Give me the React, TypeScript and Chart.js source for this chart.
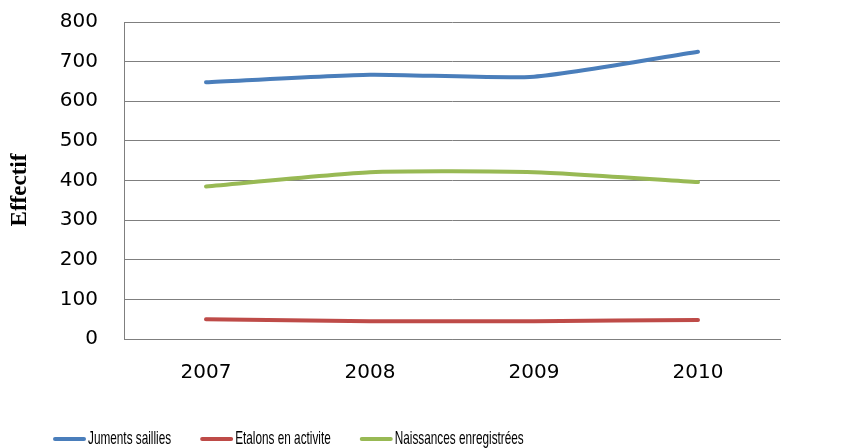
import React, { useEffect, useRef } from "react";
import { Chart, registerables } from "chart.js";

Chart.register(...registerables);

const years = ["2007", "2008", "2009", "2010"];
const juments = [648, 667, 662, 725];
const etalons = [50, 45, 45, 48];
const naissances = [385, 421, 421, 396];
const seriesNames = ["Juments saillies", "Etalons en activite", "Naissances enregistrées"];
const seriesColors = ["#4A7EBB", "#BE4B48", "#98B954"];
const yTitle = "Effectif";

const decorPlugin = {
  id: "decor",
  afterDraw(chart: any) {
    const ctx = chart.ctx;
    ctx.save();
    // y-axis title
    ctx.save();
    ctx.translate(20, 190);
    ctx.rotate(-Math.PI / 2);
    ctx.font = "bold 23px 'Liberation Serif', serif";
    ctx.fillStyle = "#000";
    ctx.textAlign = "center";
    ctx.textBaseline = "middle";
    ctx.fillText(yTitle, 0, 0);
    ctx.restore();
    // legend
    const sx = 0.62;
    ctx.font = "19px 'Liberation Sans', sans-serif";
    ctx.textBaseline = "middle";
    ctx.textAlign = "left";
    let x = 53;
    const y = 439;
    chart.data.datasets.forEach((ds: any) => {
      ctx.strokeStyle = ds.borderColor;
      ctx.lineWidth = 4;
      ctx.lineCap = "round";
      ctx.beginPath();
      ctx.moveTo(x + 2, y);
      ctx.lineTo(x + 31, y);
      ctx.stroke();
      ctx.fillStyle = "#000";
      ctx.save();
      ctx.translate(x + 35, y);
      ctx.scale(sx, 1);
      ctx.fillText(ds.label, 0, 0);
      ctx.restore();
      const w = ctx.measureText(ds.label).width * sx;
      x = x + 35 + w + 29;
    });
    ctx.restore();
  },
};

export default function App() {
  const ref = useRef<HTMLCanvasElement | null>(null);
  useEffect(() => {
    if (!ref.current) return;
    const values = [juments, etalons, naissances];
    const chart = new Chart(ref.current, {
      type: "line",
      data: {
        labels: years,
        datasets: values.map((v, i) => ({
          label: seriesNames[i],
          data: v,
          borderColor: seriesColors[i],
          backgroundColor: seriesColors[i],
          borderWidth: 4,
          pointRadius: 0,
          tension: 0.2,
          borderCapStyle: "round",
        })),
      },
      options: {
        animation: false,
        responsive: false,
        layout: { padding: { top: 22, right: 88, left: 0, bottom: 0 } },
        plugins: { legend: { display: false }, tooltip: { enabled: false } },
        scales: {
          x: {
            offset: true,
            grid: { display: false, drawTicks: false },
            border: { display: true, color: "#7f7f7f", width: 1 },
            ticks: {
              color: "#000",
              padding: 22,
              font: { family: "'DejaVu Sans', sans-serif", size: 20 },
            },
            afterFit: (s: any) => {
              s.height = 109;
              s.paddingLeft = 0;
              s.paddingRight = 0;
            },
          },
          y: {
            min: 0,
            max: 800,
            grid: { color: "#7f7f7f", lineWidth: 1, drawTicks: false },
            border: { display: true, color: "#7f7f7f", width: 1 },
            ticks: {
              stepSize: 100,
              color: "#000",
              padding: 26,
              font: { family: "'DejaVu Sans', sans-serif", size: 20 },
            },
            afterFit: (s: any) => {
              s.width = 124;
              s.paddingTop = 0;
              s.paddingBottom = 0;
            },
          },
        },
      },
      plugins: [decorPlugin],
    });
    return () => chart.destroy();
  }, []);
  return (
    <div style={{ position: "fixed", left: 0, top: 0, width: 868, height: 448, background: "#fff" }}>
      <canvas ref={ref} width={868} height={448} style={{ width: 868, height: 448 }} />
    </div>
  );
}
